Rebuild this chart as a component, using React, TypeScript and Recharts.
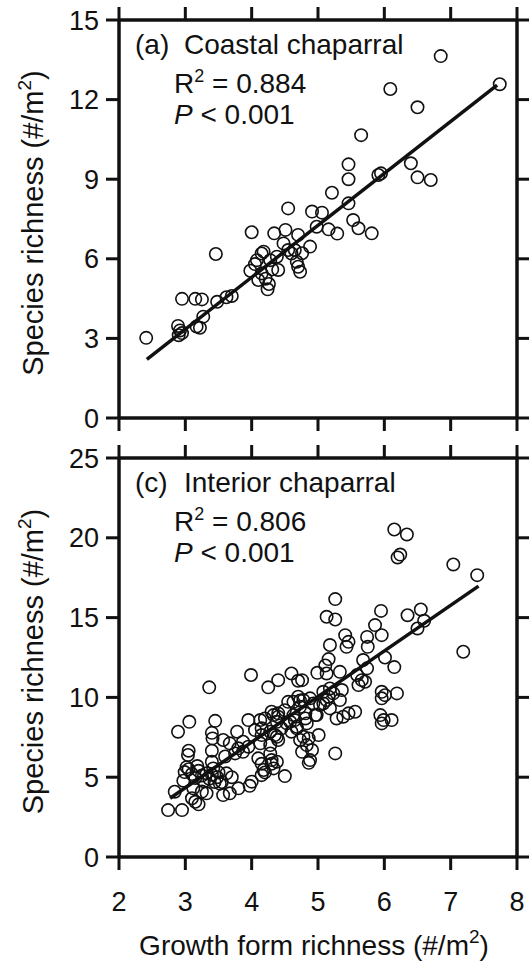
import { ScatterChart, Scatter, XAxis, YAxis, ReferenceLine, Label } from "recharts";

// ── data ────────────────────────────────────────────────────────────────────
const growthTicks = [2, 3, 4, 5, 6, 7, 8];
const coastalTicks = [0, 3, 6, 9, 12, 15];
const interiorTicks = [0, 5, 10, 15, 20, 25];

// [growth form richness, species richness]
const coastal: [number, number][] = [
  [2.41, 3.02],
  [2.89, 3.47], [2.92, 3.3], [2.9, 3.12], [2.95, 3.2],
  [2.95, 4.49], [3.15, 4.49], [3.25, 4.47],
  [3.17, 3.45], [3.22, 3.4], [3.27, 3.82],
  [3.48, 4.38], [3.62, 4.55], [3.7, 4.6],
  [3.46, 6.18],
  [3.98, 5.55], [4.05, 5.8], [4.08, 5.95], [4.15, 6.2], [4.18, 6.27], [4.1, 5.2], [4.15, 5.45],
  [4.21, 5.25], [4.24, 4.85], [4.26, 5.05], [4.28, 5.95], [4.31, 5.6], [4.38, 6.08], [4.4, 5.58],
  [4.0, 7.0], [4.34, 6.96], [4.51, 7.09], [4.55, 7.9], [4.48, 6.58], [4.55, 6.33], [4.6, 6.2],
  [4.65, 6.33], [4.68, 5.89], [4.7, 5.7], [4.73, 5.51], [4.76, 6.21], [4.7, 6.9], [4.88, 6.46],
  [4.91, 7.78], [5.06, 7.74], [4.98, 7.21], [5.16, 7.11], [5.29, 6.95],
  [5.21, 8.49], [5.46, 8.09], [5.46, 9.0], [5.46, 9.56], [5.53, 7.46], [5.61, 7.15], [5.81, 6.96],
  [5.65, 10.66], [5.91, 9.16], [5.95, 9.22], [6.09, 12.4], [6.4, 9.6], [6.5, 9.07], [6.5, 11.71],
  [6.7, 8.97], [6.85, 13.64], [7.74, 12.58],
];

const interior: [number, number][] = [
  [2.74, 2.94], [2.95, 2.94], [2.84, 4.09], [2.89, 7.85], [3.06, 8.47], [3.05, 6.66], [3.04, 6.39],
  [3.02, 5.63], [2.99, 5.32], [2.97, 4.78], [3.1, 3.68], [3.15, 3.46], [3.2, 3.3], [3.32, 3.99],
  [3.12, 4.3], [3.25, 4.1], [3.05, 5.5], [3.1, 5.2], [3.15, 4.95], [3.2, 5.4], [3.25, 5.1],
  [3.28, 4.75], [3.32, 5.25], [3.36, 4.9], [3.4, 5.15], [3.44, 4.7], [3.48, 5.0], [3.52, 4.6],
  [3.42, 5.55], [3.18, 5.7], [3.4, 5.97], [3.4, 6.66], [3.41, 7.43], [3.4, 7.78], [3.45, 8.53],
  [3.36, 10.63],
  [3.57, 7.33], [3.67, 7.12], [3.78, 7.85], [3.8, 6.81], [3.87, 6.59], [3.62, 5.24], [3.67, 3.99],
  [3.57, 3.88], [3.8, 4.3], [4.0, 4.72], [4.15, 5.13], [4.18, 5.45], [4.3, 6.07], [4.33, 5.55],
  [4.5, 5.07], [4.15, 5.84], [4.3, 5.84], [3.97, 4.46], [4.2, 5.3],
  [3.95, 8.58], [4.13, 8.58], [4.2, 8.68], [4.33, 8.89], [4.4, 9.0], [4.05, 7.95], [4.15, 8.06],
  [3.87, 7.22], [3.75, 6.49], [3.95, 6.91], [4.13, 7.12], [4.1, 6.18], [4.28, 6.49], [4.38, 5.97],
  [4.28, 7.85], [4.38, 7.53], [4.15, 7.64], [4.35, 7.64], [4.4, 7.33], [4.28, 7.01], [4.53, 8.37],
  [4.45, 8.06], [3.99, 11.4], [4.25, 10.63], [4.4, 11.08], [4.6, 11.5], [4.7, 11.04],
  [4.3, 9.1], [4.4, 8.79], [4.5, 9.2], [4.38, 8.47], [4.55, 9.72], [4.63, 9.72], [4.7, 10.04],
  [3.55, 4.7], [3.5, 5.3], [3.7, 5.0], [3.6, 6.3],
  [4.6, 7.85], [4.68, 8.16], [4.65, 8.58], [4.58, 8.47], [4.81, 8.68], [4.96, 8.89], [4.83, 8.37],
  [5.01, 7.64], [4.86, 7.43], [4.73, 7.33], [4.83, 7.01], [4.76, 6.59], [4.88, 6.07], [4.86, 5.9],
  [4.91, 6.7], [4.78, 7.53], [4.68, 8.06], [4.63, 8.89], [4.73, 9.41], [4.81, 9.0], [4.93, 9.62],
  [4.98, 8.89], [5.08, 9.62], [5.16, 10.04], [4.73, 9.8], [5.03, 9.52], [5.13, 9.83], [5.18, 9.31],
  [5.33, 9.83], [4.88, 9.94], [4.78, 9.83], [5.08, 10.35], [5.18, 10.56], [5.36, 10.46],
  [5.23, 10.25], [5.26, 6.49], [5.46, 9.0], [5.56, 9.1], [5.38, 8.79], [5.28, 8.68],
  [4.76, 11.08], [4.99, 11.54], [5.11, 12.0], [5.13, 11.5], [5.16, 12.4], [5.18, 13.28],
  [5.41, 13.9], [5.46, 13.48], [5.43, 13.17], [5.13, 15.05], [5.26, 14.88], [5.26, 16.16],
  [5.74, 13.79], [5.96, 13.9], [5.86, 14.53], [5.75, 13.17], [6.15, 11.9], [6.01, 12.5],
  [5.68, 12.34], [5.74, 11.82], [5.33, 11.6], [5.59, 11.4], [5.66, 11.08], [5.71, 10.98],
  [5.61, 10.77], [5.96, 10.35], [6.01, 10.14], [6.19, 10.25], [5.96, 9.94], [5.94, 8.89],
  [5.99, 8.58], [6.11, 8.58], [5.96, 8.37], [5.95, 15.42], [6.35, 15.15], [6.55, 15.51],
  [6.6, 14.8], [6.5, 14.32], [6.15, 20.52], [6.34, 20.21], [6.2, 18.77], [6.24, 18.95],
  [7.04, 18.33], [7.4, 17.66], [7.19, 12.86],
];

// regression line end points
const coastalFit: [number, number][] = [[2.42, 2.21], [7.7, 12.55]];
const interiorFit: [number, number][] = [[2.77, 3.68], [7.42, 16.97]];

const FONT = "'Liberation Sans', Arial, Helvetica, sans-serif";
const INK = "#111";
const W = 529;
const TS = 13; // tick length
const TW = 3; // tick thickness
const AXIS = { stroke: INK, strokeWidth: 3.5 };
const TICK_TEXT = { fill: INK, fontSize: 27, fontFamily: FONT };

function Ring(props: any) {
  const { cx, cy } = props;
  if (cx == null || cy == null) return null;
  return <circle cx={cx} cy={cy} r={6.2} fill="none" stroke={INK} strokeWidth={1.6} />;
}

// outward tick marks on the four sides of the box, placed by the chart scales
const tickShape = (side: "b" | "t" | "l" | "r") => (p: any) => {
  const { cx, cy } = p;
  if (cx == null || cy == null) return null;
  if (side === "b") return <rect x={cx - TW / 2} y={cy} width={TW} height={TS} fill={INK} />;
  if (side === "t") return <rect x={cx - TW / 2} y={cy - TS} width={TW} height={TS} fill={INK} />;
  if (side === "l") return <rect x={cx - TS} y={cy - TW / 2} width={TS} height={TW} fill={INK} />;
  return <rect x={cx} y={cy - TW / 2} width={TS} height={TW} fill={INK} />;
};

// x tick label, pushed a little further below the tick marks
function XTickLabel(p: any) {
  return (
    <text x={p.x} y={p.y + 20} dy="0.71em" textAnchor="middle" {...TICK_TEXT}>
      {p.payload.value}
    </text>
  );
}

function Sup({ base, size }: { base: number; size: number }) {
  return (
    <tspan fontSize={size} dy={-base}>
      2
    </tspan>
  );
}

// panel tag, R² / P block and the rotated y title, placed against the plot box
function PanelText({ viewBox, tag, name, r2 }: any) {
  const top = viewBox.y;
  const cy = viewBox.y + viewBox.height / 2 + 4;
  return (
    <g fontFamily={FONT} fill={INK}>
      <text x={135} y={top + 34} fontSize={28}>{tag}</text>
      <text x={184} y={top + 34} fontSize={28}>{name}</text>
      <text x={174} y={top + 73} fontSize={28} xmlSpace="preserve">
        R<Sup base={11} size={18} />
        <tspan dy={11}>{` = ${r2}`}</tspan>
      </text>
      <text x={174} y={top + 104} fontSize={28} xmlSpace="preserve">
        <tspan fontStyle="italic">P</tspan>
        <tspan>{" < 0.001"}</tspan>
      </text>
      <text x={43} y={cy} transform={`rotate(-90, 43, ${cy})`} textAnchor="middle" fontSize={29}>
        Species richness (#/m
        <Sup base={12} size={19} />
        <tspan dy={12}>)</tspan>
      </text>
    </g>
  );
}

function XTitle({ viewBox }: any) {
  return (
    <text x={viewBox.x + viewBox.width / 2 - 4} y={viewBox.y + 98} textAnchor="middle" fontFamily={FONT} fontSize={28} fill={INK}>
      Growth form richness (#/m
      <Sup base={12} size={19} />
      <tspan dy={12}>)</tspan>
    </text>
  );
}

function Panel({
  points,
  fit,
  yTicks,
  height,
  bottomHeight,
  showX,
  tag,
  name,
  r2,
}: {
  points: [number, number][];
  fit: [number, number][];
  yTicks: number[];
  height: number;
  bottomHeight: number;
  showX: boolean;
  tag: string;
  name: string;
  r2: string;
}) {
  const data = points.map(([x, y]) => ({ x, y }));
  const yMin = yTicks[0];
  const yMax = yTicks[yTicks.length - 1];
  const xMin = growthTicks[0];
  const xMax = growthTicks[growthTicks.length - 1];
  const bottomMarks = growthTicks.map((x) => ({ x, y: yMin }));
  const topMarks = growthTicks.map((x) => ({ x, y: yMax }));
  const leftMarks = yTicks.map((y) => ({ x: xMin, y }));
  const rightMarks = yTicks.map((y) => ({ x: xMax, y }));
  return (
    <ScatterChart width={W} height={height} margin={{ top: 19, right: 11, bottom: 0, left: 0 }}>
      <XAxis
        xAxisId="b"
        type="number"
        dataKey="x"
        domain={[xMin, xMax]}
        ticks={growthTicks}
        interval={0}
        height={bottomHeight}
        axisLine={AXIS}
        tickLine={false}
        tickSize={TS}
        tick={showX ? XTickLabel : false}
      >
        {showX && <Label content={XTitle} />}
      </XAxis>
      <XAxis
        xAxisId="t"
        orientation="top"
        type="number"
        domain={[xMin, xMax]}
        ticks={growthTicks}
        interval={0}
        height={1}
        axisLine={AXIS}
        tickLine={false}
        tick={false}
      />
      <YAxis
        yAxisId="l"
        type="number"
        dataKey="y"
        domain={[yMin, yMax]}
        ticks={yTicks}
        interval={0}
        width={119}
        axisLine={AXIS}
        tickLine={false}
        tickSize={TS}
        tickMargin={7}
        tick={TICK_TEXT}
      >
        <Label content={(p: any) => <PanelText {...p} tag={tag} name={name} r2={r2} />} />
      </YAxis>
      <YAxis
        yAxisId="r"
        orientation="right"
        type="number"
        domain={[yMin, yMax]}
        ticks={yTicks}
        interval={0}
        width={1}
        axisLine={AXIS}
        tickLine={false}
        tick={false}
      />
      <Scatter data={bottomMarks} xAxisId="b" yAxisId="l" shape={tickShape("b")} isAnimationActive={false} />
      <Scatter data={topMarks} xAxisId="b" yAxisId="l" shape={tickShape("t")} isAnimationActive={false} />
      <Scatter data={leftMarks} xAxisId="b" yAxisId="l" shape={tickShape("l")} isAnimationActive={false} />
      <Scatter data={rightMarks} xAxisId="b" yAxisId="l" shape={tickShape("r")} isAnimationActive={false} />
      <Scatter data={data} xAxisId="b" yAxisId="l" shape={Ring} isAnimationActive={false} />
      <ReferenceLine
        xAxisId="b"
        yAxisId="l"
        segment={fit.map(([x, y]) => ({ x, y }))}
        stroke={INK}
        strokeWidth={3.5}
      />
    </ScatterChart>
  );
}

export default function App() {
  return (
    <div style={{ position: "absolute", left: 0, top: 0, width: W, height: 967, background: "#fff" }}>
      <Panel
        points={coastal}
        fit={coastalFit}
        yTicks={coastalTicks}
        height={438}
        bottomHeight={20}
        showX={false}
        tag="(a)"
        name="Coastal chaparral"
        r2="0.884"
      />
      <Panel
        points={interior}
        fit={interiorFit}
        yTicks={interiorTicks}
        height={529}
        bottomHeight={110}
        showX
        tag="(c)"
        name="Interior chaparral"
        r2="0.806"
      />
    </div>
  );
}
